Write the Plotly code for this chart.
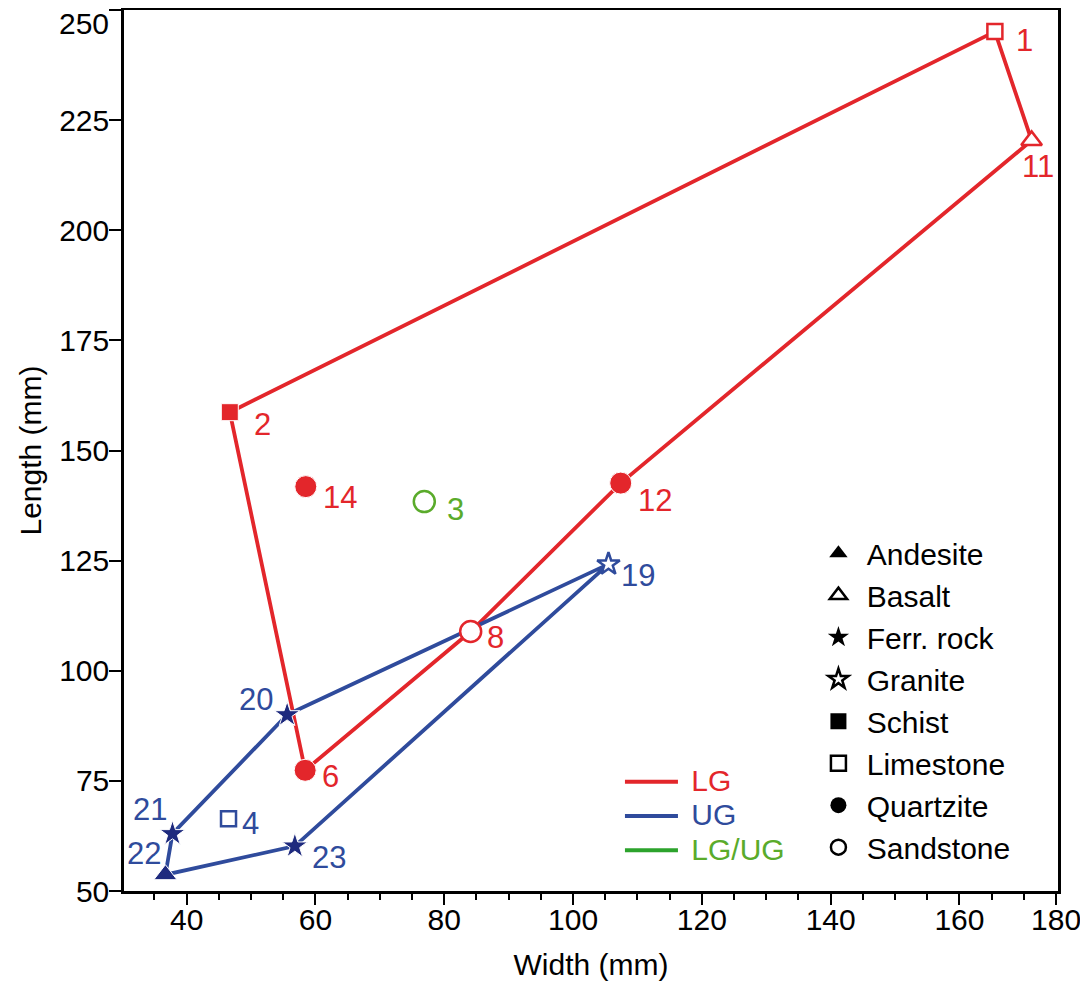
import plotly.graph_objects as go

# ---------------- data ----------------
sample_ids = ["1", "2", "3", "4", "6", "8", "11", "12", "14", "19", "20", "21", "22", "23"]
width_mm = [165.5, 46.7, 76.9, 46.5, 58.4, 84.1, 171.2, 107.4, 58.5, 105.5, 55.6, 37.8, 36.7, 56.8]
length_mm = [245.1, 158.7, 138.4, 66.4, 77.4, 108.9, 220.4, 142.6, 141.8, 124.2, 90.0, 63.0, 53.7, 60.2]
group = ["LG", "LG", "LG/UG", "UG", "LG", "LG", "LG", "LG", "LG", "UG", "UG", "UG", "UG", "UG"]
rock = ["Limestone", "Schist", "Sandstone", "Limestone", "Quartzite", "Sandstone", "Basalt",
        "Quartzite", "Quartzite", "Granite", "Ferr. rock", "Ferr. rock", "Andesite", "Ferr. rock"]

lg_outline = ["2", "1", "11", "12", "8", "6", "2"]
ug_outline = ["20", "19", "23", "22", "21", "20"]

groups = ["LG", "UG", "LG/UG"]
rock_types = ["Andesite", "Basalt", "Ferr. rock", "Granite", "Schist", "Limestone", "Quartzite", "Sandstone"]

x_tickvals = [40, 60, 80, 100, 120, 140, 160, 175]
x_ticktext = ["40", "60", "80", "100", "120", "140", "160", "180"]
y_tickvals = [50, 75, 100, 125, 150, 175, 200, 225, 250]

# ---------------- styles ----------------
FONT = "Liberation Sans, Arial, Helvetica, sans-serif"
RED = "#e3262b"
BLUE = "#2f4b9c"
NAVY = "#1e2a7e"
GREEN_LINE = "#2ca32c"
GREEN_TXT = "#5aab2b"
NB = "\u00a0"

group_line = {"LG": RED, "UG": BLUE, "LG/UG": GREEN_LINE}
group_fill = {"LG": RED, "UG": NAVY, "LG/UG": GREEN_TXT}
group_open = {"LG": RED, "UG": BLUE, "LG/UG": GREEN_TXT}
group_text = {"LG": RED, "UG": BLUE, "LG/UG": GREEN_TXT}

# symbol, filled?, size
rock_style = {
    "Andesite": ("triangle-up", True, 20),
    "Basalt": ("triangle-up", False, 18),
    "Ferr. rock": ("star", True, 19),
    "Granite": ("star", False, 17),
    "Schist": ("square", True, 17),
    "Limestone": ("square", False, 15),
    "Quartzite": ("circle", True, 22),
    "Sandstone": ("circle", False, 21),
}

# label offsets in pixels (dx, dy-down, anchor)
label_pos = {
    "1": (19, 9, "left"), "11": (-12, 26, "left"), "2": (22, 12, "left"),
    "14": (15, 11, "left"), "3": (21, 8, "left"), "12": (15, 17, "left"),
    "19": (11, 11, "left"), "8": (14, 6, "left"), "20": (-12, -15, "right"),
    "6": (15, 6, "left"), "21": (-3, -24, "right"), "22": (-2, -21, "right"),
    "4": (11, 5, "left"), "23": (15, 11, "left"),
}

idx = {s: i for i, s in enumerate(sample_ids)}

fig = go.Figure()

# outlines
for ids, g in [(lg_outline, "LG"), (ug_outline, "UG")]:
    fig.add_trace(go.Scatter(
        x=[width_mm[idx[s]] for s in ids], y=[length_mm[idx[s]] for s in ids],
        mode="lines", line=dict(color=group_line[g], width=3.8),
        showlegend=False, hoverinfo="skip"))

# points
for i, s in enumerate(sample_ids):
    sym, filled, size = rock_style[rock[i]]
    g = group[i]
    if filled:
        marker = dict(symbol=sym, size=size, color=group_fill[g], line=dict(color="white", width=1))
    else:
        marker = dict(symbol=sym, size=size, color="white", line=dict(color=group_open[g], width=2.5))
    fig.add_trace(go.Scatter(x=[width_mm[i]], y=[length_mm[i]], mode="markers", marker=marker,
                             showlegend=False, name=s))

# symbol legend (legend)
for r in rock_types:
    sym, filled, size = rock_style[r]
    if filled:
        marker = dict(symbol=sym, size=16, color="black", line=dict(color="black", width=0))
    else:
        marker = dict(symbol=sym, size=15, color="white", line=dict(color="black", width=2.5))
    fig.add_trace(go.Scatter(x=[None], y=[None], mode="markers", marker=marker, name=NB + r,
                             legend="legend", showlegend=True))

# group legend (legend2)
for g in groups:
    fig.add_trace(go.Scatter(x=[None], y=[None], mode="lines",
                             line=dict(color=group_line[g], width=4),
                             name=f"<span style='font-size:30px;color:{group_text[g]}'>{NB}{g}</span>",
                             legend="legend2", showlegend=True))

# labels
annotations = []
for i, s in enumerate(sample_ids):
    dx, dy, anc = label_pos[s]
    annotations.append(dict(
        x=width_mm[i], y=length_mm[i], xref="x", yref="y", text=s, showarrow=False,
        xanchor=anc, yanchor="middle", xshift=dx, yshift=-dy,
        font=dict(family=FONT, size=31, color=group_text[group[i]])))
# top y tick label (kept inside the figure)
annotations.append(dict(x=0, y=250, xref="paper", yref="y", text="250", showarrow=False,
                        xanchor="right", yanchor="top", xshift=-13, yshift=5,
                        font=dict(family=FONT, size=30, color="black")))

# the page body has an 8px margin: the figure is sized to fill the rest of the window
fig.update_layout(
    width=1080, height=977,
    margin=dict(l=116, r=29.5, t=1.5, b=93.5),
    paper_bgcolor="white", plot_bgcolor="white",
    font=dict(family=FONT, size=30, color="black"),
    annotations=annotations,
    legend=dict(x=0.7435, y=0.413, xanchor="left", yanchor="top", bgcolor="rgba(0,0,0,0)",
                font=dict(family=FONT, size=30, color="black"), itemwidth=30,
                traceorder="normal"),
    legend2=dict(x=0.531, y=0.149, xanchor="left", yanchor="top", bgcolor="rgba(0,0,0,0)",
                 font=dict(family=FONT, size=24, color="black"), itemwidth=53,
                 traceorder="normal"),
)

fig.update_xaxes(
    range=[30.27, 175.3], tickmode="array", tickvals=x_tickvals, ticktext=x_ticktext,
    ticks="outside", ticklen=11, tickwidth=2, tickcolor="black", automargin=False,
    ticklabelstandoff=-11,
    minor=dict(tickvals=[35, 45, 50, 55, 65, 70, 75, 85, 90, 95, 105, 110, 115, 125, 130, 135,
                         145, 150, 155, 165, 170], ticks="outside", ticklen=6, tickwidth=2,
               tickcolor="black"),
    showline=True, linewidth=2.5, linecolor="black", mirror=True, showgrid=False, zeroline=False,
    tickfont=dict(family=FONT, size=30, color="black"),
    title=dict(text="Width (mm)", font=dict(family=FONT, size=30, color="black"), standoff=20),
)
fig.update_yaxes(
    range=[50, 250], tickmode="array", tickvals=y_tickvals,
    ticktext=["50", "75", "100", "125", "150", "175", "200", "225", ""],
    ticks="outside", ticklen=12, tickwidth=2, tickcolor="black", automargin=False,
    ticklabelstandoff=-6,
    showline=True, linewidth=2.5, linecolor="black", mirror=True, showgrid=False, zeroline=False,
    tickfont=dict(family=FONT, size=30, color="black"),
    title=dict(text="Length (mm)", font=dict(family=FONT, size=30, color="black"), standoff=9),
)

fig.write_html("out.html")
